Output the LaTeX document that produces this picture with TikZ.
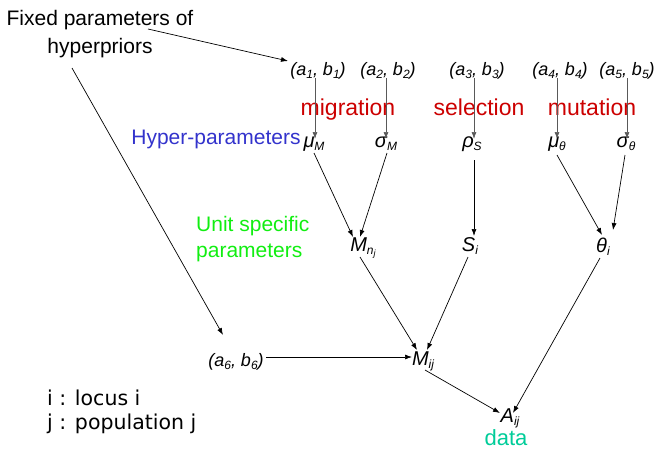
\documentclass[tikz,border=0pt]{standalone}
\usepackage{fontspec}
\setmainfont{Liberation Sans}
\newfontfamily\dejavu{DejaVu Sans}
\usetikzlibrary{arrows.meta,calc}
\definecolor{cred}{HTML}{CC0000}
\definecolor{cblue}{HTML}{3333CC}
\definecolor{cgreen}{HTML}{11EE11}
\definecolor{cteal}{HTML}{00CC99}
\newcommand\sbs[2][12]{\raisebox{-0.35ex}{\fontsize{#1}{#1}\selectfont #2}}
\tikzset{
  lbl/.style={anchor=base,inner sep=0pt,font=\fontsize{21}{25}\selectfont},
  big/.style={anchor=base,inner sep=0pt,font=\fontsize{23}{26}\selectfont,text=cred},
  var/.style={anchor=base,inner sep=0pt,font=\fontsize{18}{20}\selectfont\itshape},
  gvar/.style={var,font=\fontsize{20}{22}\selectfont\itshape},
  arr/.style={-{Latex[length=7pt,width=5pt]},line width=0.7pt},
  garr/.style={arr,draw=black!65},
}
\begin{document}
\begin{tikzpicture}[x=1pt,y=-1pt]
\useasboundingbox (0,0) rectangle (657,451);
% texts
\node[lbl] (fixed1) at (100,25) {Fixed parameters of};
\node[lbl] (fixed2) at (100,53) {hyperpriors};
\node[big] (mig) at (348,115) {migration};
\node[big] (sel) at (479,115) {selection};
\node[big] (mut) at (592,115) {mutation};
\node[lbl,text=cblue] (hyper) at (216,144) {Hyper-parameters};
\node[lbl,text=cgreen,anchor=base west] (unit1) at (196,231) {Unit specific};
\node[lbl,text=cgreen,anchor=base west] (unit2) at (196,257) {parameters};
\node[lbl,font=\fontsize{20.5}{24}\dejavu,anchor=base west] (locus) at (47,405) {i : locus i};
\node[lbl,font=\fontsize{20.5}{24}\dejavu,anchor=base west] (popu) at (47,429) {j : population j};
\node[lbl,text=cteal,font=\fontsize{22}{26}\selectfont] (data) at (506,445) {data};
% variables
\node[var] (a1) at (318,75) {(a\sbs{1}, b\sbs{1})};
\node[var] (a2) at (388,75) {(a\sbs{2}, b\sbs{2})};
\node[var] (a3) at (477,75) {(a\sbs{3}, b\sbs{3})};
\node[var] (a4) at (560,75) {(a\sbs{4}, b\sbs{4})};
\node[var] (a5) at (627,75) {(a\sbs{5}, b\sbs{5})};
\node[gvar] (muM) at (314,147) {μ\sbs{M}};
\node[gvar] (sigM) at (386,147) {σ\sbs{M}};
\node[gvar] (rhoS) at (472,147) {ρ\sbs{S}};
\node[gvar] (mut) at (557,147) {μ\sbs{θ}};
\node[gvar] (sigt) at (626,147) {σ\sbs{θ}};
\node[gvar] (Mnj) at (363,251) {M\sbs{n\sbs[9]{j}}};
\node[gvar] (Si) at (470,251) {S\sbs{i}};
\node[gvar] (thi) at (603,252) {θ\sbs{i}};
\node[var] (a6) at (236,366) {(a\sbs{6}, b\sbs{6})};
\node[gvar] (Mij) at (423,365) {M\sbs{ij}};
\node[gvar] (Aij) at (510,422) {A\sbs{ij}};
% connectors
\draw[arr] ($(fixed1.base)+(48,4)$) -- ($(a1.base)+(-30,-14)$);
\draw[arr] ($(fixed2.base)+(-28,15)$) -- ($(a6.base)+(-13,-31)$);
\draw[garr] ($(a1.base)+(-3,3)$) -- ($(muM.base)+(1,-8)$);
\draw[garr] ($(a2.base)+(-2,3)$) -- ($(sigM.base)+(0,-8)$);
\draw[garr] ($(a3.base)+(-3,3)$) -- ($(rhoS.base)+(2,-8)$);
\draw[garr] ($(a4.base)+(-3,3)$) -- ($(mut.base)+(0,-8)$);
\draw[garr] ($(a5.base)+(0,3)$) -- ($(sigt.base)+(1,-8)$);
\draw[arr] ($(muM.base)+(0,6)$) -- ($(Mnj.base)+(-10,-14)$);
\draw[arr] ($(sigM.base)+(1,6)$) -- ($(Mnj.base)+(-3,-14)$);
\draw[arr] ($(rhoS.base)+(2,13)$) -- ($(Si.base)+(4,-15)$);
\draw[arr] ($(mut.base)+(0,8)$) -- ($(thi.base)+(-1,-17)$);
\draw[arr] ($(sigt.base)+(-1,8)$) -- ($(thi.base)+(10,-22)$);
\draw[arr] ($(Mnj.base)+(-3,6)$) -- ($(Mij.base)+(-6,-15)$);
\draw[arr] ($(Si.base)+(-2,6)$) -- ($(Mij.base)+(4,-15)$);
\draw[arr] ($(a6.base)+(30,-9)$) -- ($(Mij.base)+(-11,-8)$);
\draw[arr] ($(Mij.base)+(2,5)$) -- ($(Aij.base)+(-10,-9)$);
\draw[arr] ($(thi.base)+(-3,6)$) -- ($(Aij.base)+(3,-9)$);
\end{tikzpicture}
\end{document}
